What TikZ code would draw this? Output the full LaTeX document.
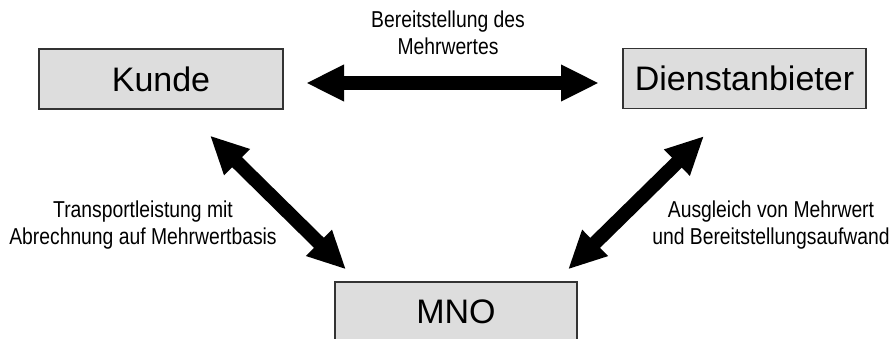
\documentclass[tikz,border=0pt]{standalone}
\usepackage{fontspec}
\setmainfont{Liberation Sans}
\newfontfamily\labfont[FakeStretch=0.84]{Liberation Sans}
\usetikzlibrary{arrows.meta}
\definecolor{boxfill}{HTML}{DDDDDD}
\definecolor{boxline}{HTML}{333333}
\tikzset{
  entity/.style={draw=boxline, fill=boxfill, line width=1.1pt, minimum height=60pt, inner sep=0pt,
    font=\fontsize{34}{40}\selectfont},
  bigarrow/.style={line width=14pt, {Triangle[length=38pt,width=34pt]}-{Triangle[length=38pt,width=34pt]}},
  lab/.style={align=center, inner sep=0pt, font=\labfont\fontsize{23}{27}\selectfont}
}
\begin{document}
\begin{tikzpicture}[x=1pt,y=-1pt]
\useasboundingbox (0,0) rectangle (890,338);
\clip (0,0) rectangle (890,338);
\node[entity, minimum width=244pt] (kunde) at (161,79) {Kunde};
\node[entity, minimum width=243pt] (dienst) at (744.5,78.5) {Dienstanbieter};
\node[entity, minimum width=242pt] (mno) at (456,312) {MNO};
\coordinate (k1) at ([xshift=145pt,yshift=-4pt]kunde.center);
\coordinate (d1) at ([xshift=-145.5pt,yshift=-4.5pt]dienst.center);
\coordinate (k2) at ([xshift=49pt,yshift=-26pt]kunde.south);
\coordinate (m1) at ([xshift=-110pt,yshift=12pt]mno.north);
\coordinate (d2) at ([xshift=-40.5pt,yshift=-27pt]dienst.south);
\coordinate (m2) at ([xshift=112pt,yshift=12pt]mno.north);
\draw[bigarrow] (k1) -- (d1);
\draw[bigarrow] (k2) -- (m1);
\draw[bigarrow] (d2) -- (m2);
\node[lab] (l1) at (448,33) {Bereitstellung des\\Mehrwertes};
\node[lab] (l2) at (143,225.5) {Transportleistung mit\\Abrechnung auf Mehrwertbasis};
\node[lab] (l3) at (771,225) {Ausgleich von Mehrwert\\und Bereitstellungsaufwand};
\end{tikzpicture}
\end{document}
